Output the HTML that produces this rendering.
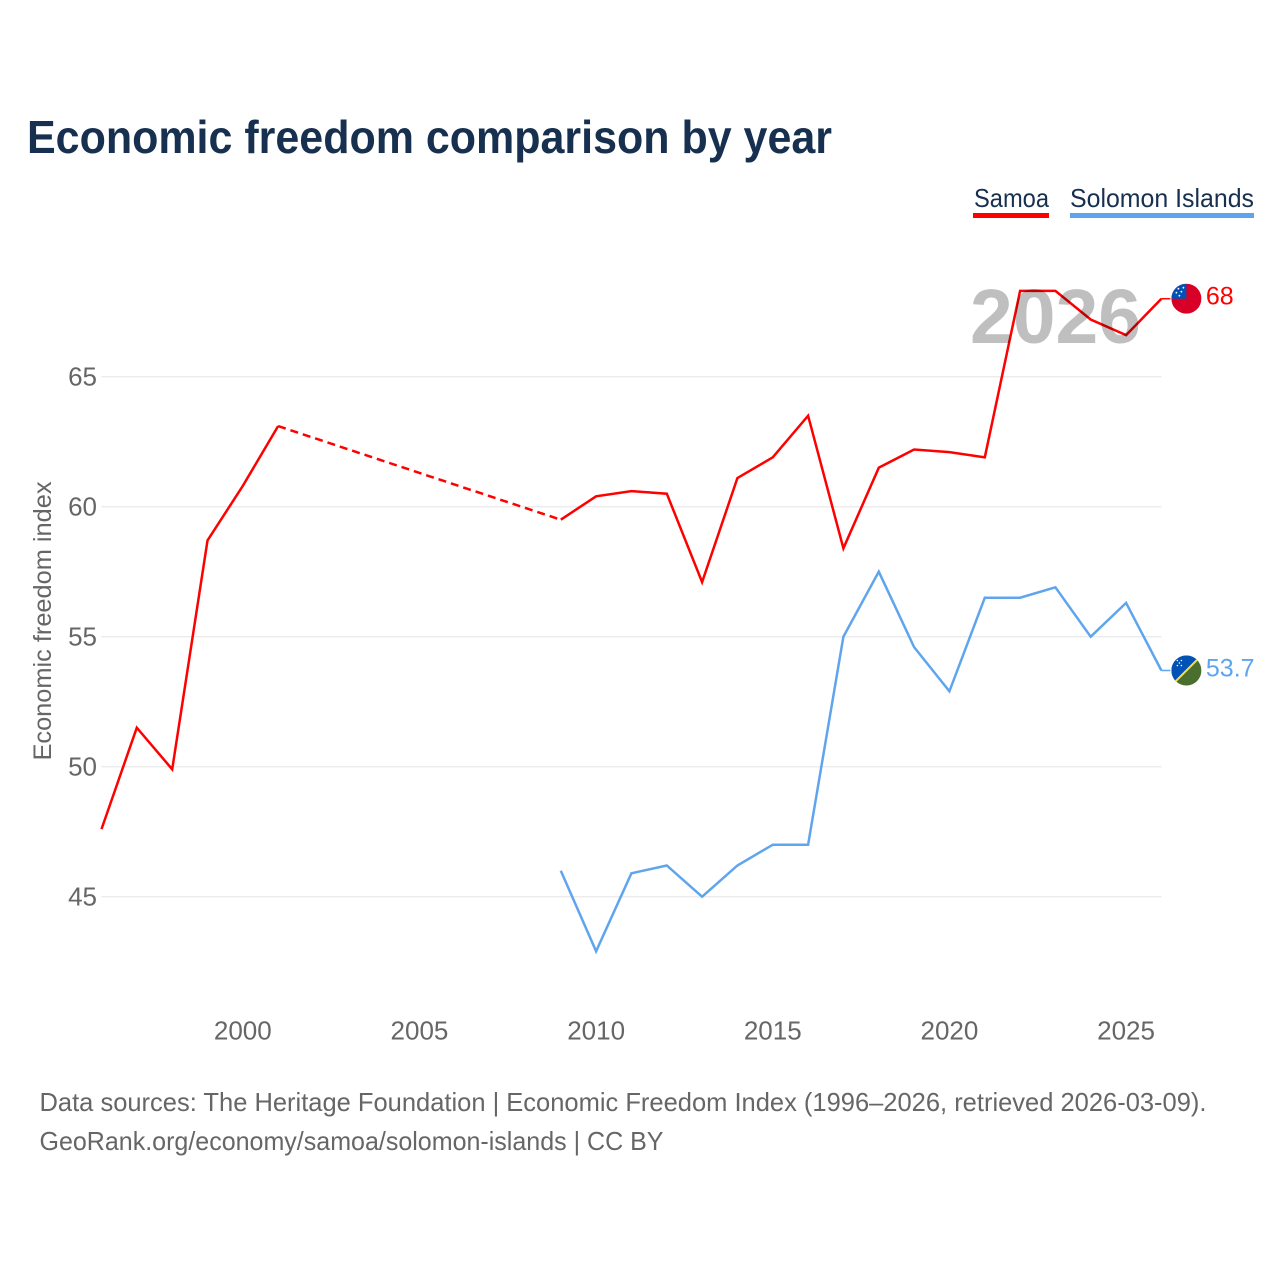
<!DOCTYPE html>
<html lang="en">
<head>
<meta charset="utf-8">
<title>Economic freedom comparison by year</title>
<style>
html,body{margin:0;padding:0;background:#fff;width:1280px;height:1280px;overflow:hidden}
svg{display:block;font-family:"Liberation Sans",sans-serif}
</style>
</head>
<body>
<svg id="chart" width="1280" height="1280" viewBox="0 0 1280 1280" xmlns="http://www.w3.org/2000/svg">
  <rect width="1280" height="1280" fill="#ffffff"/>
  <text x="27" y="153" font-size="46" font-weight="700" fill="#17304f" textLength="805" lengthAdjust="spacingAndGlyphs">Economic freedom comparison by year</text>
  <g>
    <g>
      <text x="974" y="207" font-size="26" fill="#17304f" textLength="75" lengthAdjust="spacingAndGlyphs">Samoa</text>
      <rect x="973" y="213" width="76" height="5" fill="#ff0000"/>
    </g>
    <g>
      <text x="1070" y="207" font-size="26" fill="#17304f" textLength="184" lengthAdjust="spacingAndGlyphs">Solomon Islands</text>
      <rect x="1070" y="213" width="184" height="5" fill="#5fa5ee"/>
    </g>
  </g>
  <g id="grid"></g>
  <g id="yticks"></g>
  <g id="xticks"></g>
  <text transform="translate(51,621) rotate(-90)" text-anchor="middle" font-size="25" fill="#666666" textLength="279" lengthAdjust="spacingAndGlyphs">Economic freedom index</text>
  <g id="series"></g>
  <text x="970" y="343" font-size="77" font-weight="700" fill="#bfbfbf" textLength="171" lengthAdjust="spacingAndGlyphs" style="mix-blend-mode:multiply">2026</text>
  <defs>
    <clipPath id="flag-clip-samoa"><circle id="samoa-clip-circle" r="15"/></clipPath>
    <clipPath id="flag-clip-solomon"><circle id="solomon-clip-circle" r="15"/></clipPath>
  </defs>
  <g id="flag-samoa"></g>
  <g id="flag-solomon"></g>
  <text x="39.5" y="1111" font-size="26" fill="#666666" textLength="1167" lengthAdjust="spacingAndGlyphs">Data sources: The Heritage Foundation | Economic Freedom Index (1996–2026, retrieved 2026-03-09).</text>
  <text x="39.5" y="1150" font-size="26" fill="#666666" textLength="624" lengthAdjust="spacingAndGlyphs">GeoRank.org/economy/samoa/solomon-islands | CC BY</text>
</svg>
<script>
const samoaYears = [1996,1997,1998,1999,2000,2001,2009,2010,2011,2012,2013,2014,2015,2016,2017,2018,2019,2020,2021,2022,2023,2024,2025,2026];
const samoaValues = [47.6,51.5,49.9,58.7,60.8,63.1,59.5,60.4,60.6,60.5,57.1,61.1,61.9,63.5,58.4,61.5,62.2,62.1,61.9,68.3,68.3,67.2,66.6,68];
const solomonYears = [2009,2010,2011,2012,2013,2014,2015,2016,2017,2018,2019,2020,2021,2022,2023,2024,2025,2026];
const solomonValues = [46,42.9,45.9,46.2,45,46.2,47,47,55,57.5,54.6,52.9,56.5,56.5,56.9,55,56.3,53.7];
const yTickLabels = [45,50,55,60,65];
const xTickLabels = [2000,2005,2010,2015,2020,2025];

const NS = 'http://www.w3.org/2000/svg';
const xScale = function (year) { return 101.5 + (year - 1996) * 35.33; };
const yScale = function (value) { return 376.7 + (65 - value) * 26; };

function make(tag, parent, attrs) {
  const el = document.createElementNS(NS, tag);
  Object.keys(attrs).forEach(function (k) { el.setAttribute(k, attrs[k]); });
  parent.appendChild(el);
  return el;
}
function pts(years, values) {
  return years.map(function (y, i) { return xScale(y).toFixed(1) + ',' + yScale(values[i]).toFixed(1); }).join(' ');
}

const gridG = document.getElementById('grid');
const yG = document.getElementById('yticks');
yTickLabels.forEach(function (v) {
  const line = make('line', gridG, {x1: xScale(1996), x2: xScale(2026), y1: yScale(v), y2: yScale(v), stroke: '#ececec', 'stroke-width': 1.5});
  
  
  const t = make('text', yG, {x: 97, y: yScale(v) + 9, 'text-anchor': 'end', 'font-size': 26, fill: '#666666'});
  
  
  t.textContent = v;
});

const xG = document.getElementById('xticks');
xTickLabels.forEach(function (y) {
  const t = make('text', xG, {x: xScale(y), y: 1039.5, 'text-anchor': 'middle', 'font-size': 26, fill: '#666666'});
  
  
  t.textContent = y;
});

const seriesG = document.getElementById('series');
const common = {fill: 'none', 'stroke-width': 2.5, 'stroke-linejoin': 'miter'};

/* Split a series wherever consecutive years are missing: solid runs, dashed bridge */
function drawSeries(years, values, color, name) {
  let start = 0;
  for (let i = 1; i <= years.length; i++) {
    if (i === years.length || years[i] - years[i - 1] > 1) {
      const run = make('polyline', seriesG, Object.assign({points: pts(years.slice(start, i), values.slice(start, i)), stroke: color}, common));
      
      
      if (i < years.length) {
        const gap = make('polyline', seriesG, Object.assign({points: pts(years.slice(i - 1, i + 1), values.slice(i - 1, i + 1)), stroke: color, 'stroke-dasharray': '8 5'}, common));
        
        
      }
      start = i;
    }
  }
  const lastX = xScale(years[years.length - 1]);
  const lastY = yScale(values[values.length - 1]);
  const conn = make('line', seriesG, {x1: lastX, x2: lastX + 9, y1: lastY, y2: lastY, stroke: color, 'stroke-width': 1.5});
  
  
  const label = make('text', seriesG, {x: lastX + 44.5, y: lastY + 6, 'font-size': 25, fill: color});
  
  
  label.textContent = values[values.length - 1];
  return {x: lastX + 25, y: lastY};
}

const samoaEnd = drawSeries(samoaYears, samoaValues, '#ff0000', 'samoa');
const solomonEnd = drawSeries(solomonYears, solomonValues, '#5fa5ee', 'solomon-islands');

/* Samoa flag */
const sa = document.getElementById('flag-samoa');
sa.setAttribute('transform', 'translate(' + samoaEnd.x + ',' + samoaEnd.y + ')');
sa.setAttribute('clip-path', 'url(#flag-clip-samoa)');
make('rect', sa, {x: -15, y: -15, width: 30, height: 30, fill: '#d80027'});
make('rect', sa, {x: -15, y: -15, width: 15, height: 15, fill: '#0052b4'});
[[-8, -10], [-5, -7], [-10, -6], [-7, -3], [-3, -11]].forEach(function (s) {
  make('circle', sa, {cx: s[0], cy: s[1], r: 0.9, fill: '#ffffff'});
});

/* Solomon Islands flag */
const so = document.getElementById('flag-solomon');
so.setAttribute('transform', 'translate(' + solomonEnd.x + ',' + solomonEnd.y + ')');
so.setAttribute('clip-path', 'url(#flag-clip-solomon)');
make('rect', so, {x: -15, y: -15, width: 30, height: 30, fill: '#496e2d'});
make('polygon', so, {points: '-15,-15 15,-15 -15,15', fill: '#0052b4'});
make('line', so, {x1: -15, y1: 15, x2: 15, y2: -15, stroke: '#ffda44', 'stroke-width': 2});
[[-9, -5], [-5, -5], [-7, -7.5], [-9, -10], [-5, -10]].forEach(function (s) {
  make('circle', so, {cx: s[0], cy: s[1], r: 0.8, fill: '#ffffff'});
});
</script>
</body>
</html>
